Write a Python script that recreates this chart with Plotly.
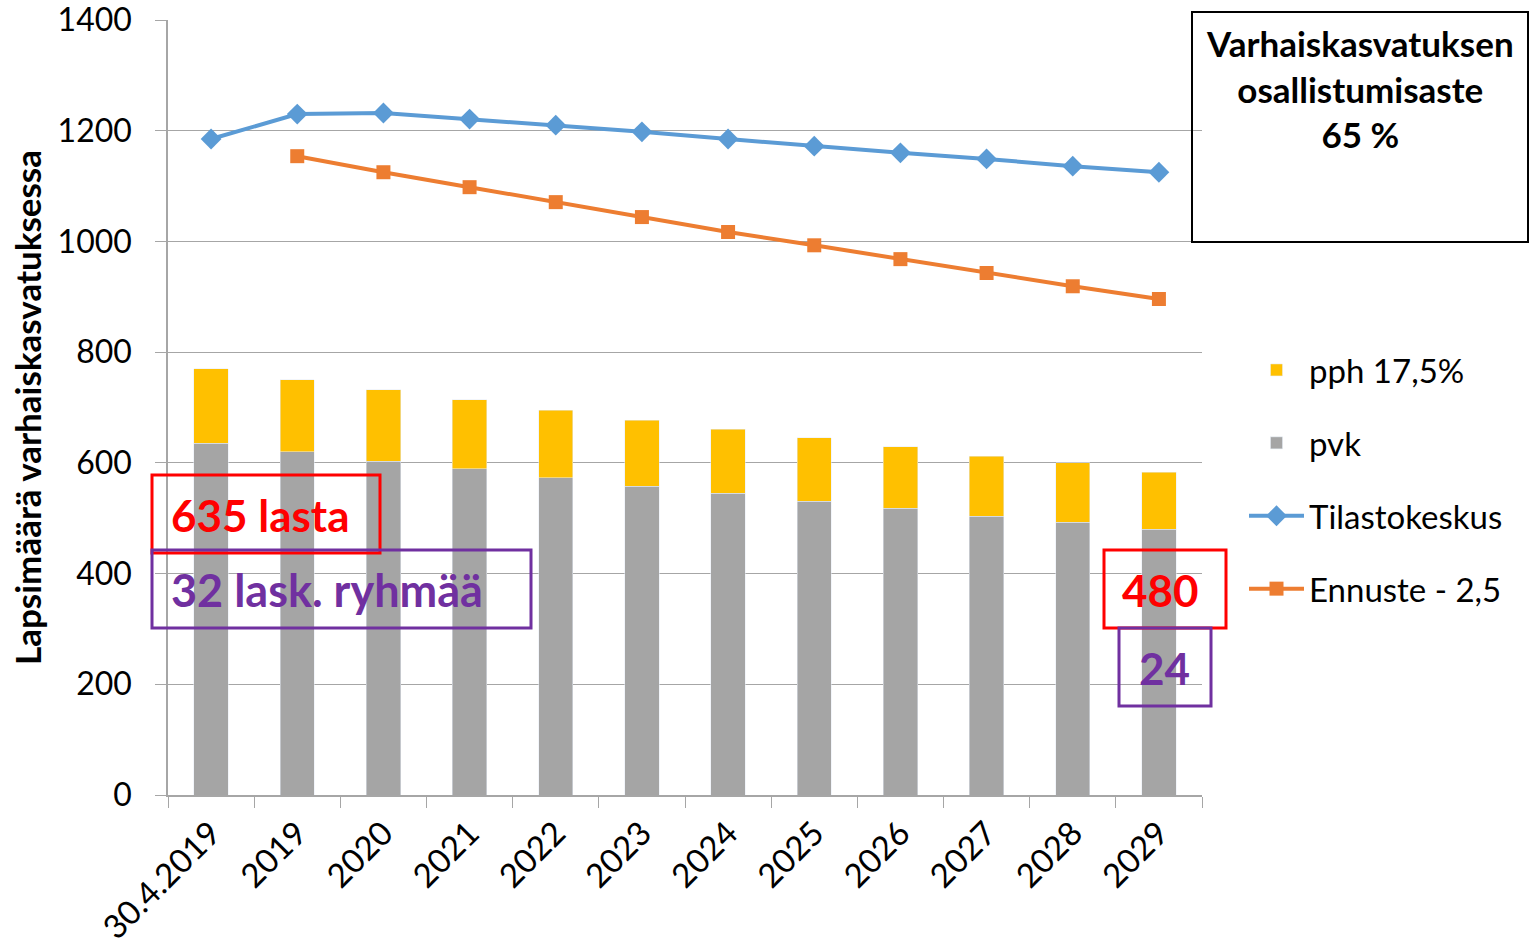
import plotly.graph_objects as go

categories = ["30.4.2019", "2019", "2020", "2021", "2022", "2023", "2024",
              "2025", "2026", "2027", "2028", "2029"]
pvk = [635, 620, 603, 589, 573, 558, 545, 531, 518, 504, 493, 480]
pph = [135, 130, 129, 125, 122, 119, 116, 114, 111, 108, 107, 103]
tilastokeskus = [1185, 1230, 1232, 1221, 1210, 1198, 1185, 1172, 1160, 1149, 1136, 1125]
ennuste = [None, 1154, 1125, 1098, 1071, 1044, 1017, 993, 968, 943, 919, 896]

FONT = "Lato"
W, H = 1530, 950
L, R, T, B = 168, 1202, 20, 795


def px(x):
    return (x - L) / (R - L)


def py(y):
    return (B - y) / (B - T)


fig = go.Figure()
fig.add_trace(go.Bar(x=categories, y=pvk, name="pvk", marker_color="#A5A5A5",
                     legendgroup="b", legendrank=2))
fig.add_trace(go.Bar(x=categories, y=pph, name="pph 17,5%", marker_color="#FFC000",
                     legendgroup="a", legendrank=1))
fig.add_trace(go.Scatter(x=categories, y=tilastokeskus, name="Tilastokeskus",
                         mode="lines+markers", line=dict(color="#5B9BD5", width=4),
                         marker=dict(symbol="diamond", size=16, color="#5B9BD5"),
                         legendgroup="c", legendrank=3))
fig.add_trace(go.Scatter(x=categories, y=ennuste, name="Ennuste - 2,5",
                         mode="lines+markers", line=dict(color="#ED7D31", width=4),
                         marker=dict(symbol="square", size=14, color="#ED7D31"),
                         legendgroup="d", legendrank=4))

shapes = [
    dict(type="rect", xref="paper", yref="paper", x0=px(1192), x1=px(1528), y0=py(242), y1=py(12),
         line=dict(color="black", width=2)),
    dict(type="rect", xref="paper", yref="paper", x0=px(152), x1=px(380), y0=py(553), y1=py(475),
         line=dict(color="#FF0000", width=3)),
    dict(type="rect", xref="paper", yref="paper", x0=px(152), x1=px(531), y0=py(628), y1=py(550),
         line=dict(color="#7030A0", width=3)),
    dict(type="rect", xref="paper", yref="paper", x0=px(1104), x1=px(1226), y0=py(628), y1=py(550),
         line=dict(color="#FF0000", width=3)),
    dict(type="rect", xref="paper", yref="paper", x0=px(1119), x1=px(1211), y0=py(706), y1=py(628),
         line=dict(color="#7030A0", width=3)),
]

annotations = [
    dict(text="<b>Varhaiskasvatuksen<br>osallistumisaste<br>65 %</b>", x=px(1360), y=py(88),
         font=dict(size=35, color="black", family=FONT)),
    dict(text="<b>635 lasta</b>", x=px(260), y=py(515), font=dict(size=44, color="#FF0000", family=FONT)),
    dict(text="<b>32 lask. ryhmää</b>", x=px(327), y=py(590), font=dict(size=45, color="#7030A0", family=FONT)),
    dict(text="<b>480</b>", x=px(1160), y=py(590), font=dict(size=44, color="#FF0000", family=FONT)),
    dict(text="<b>24</b>", x=px(1164), y=py(668), font=dict(size=44, color="#7030A0", family=FONT)),
]
for a in annotations:
    a.update(xref="paper", yref="paper", showarrow=False, xanchor="center", yanchor="middle")

fig.update_layout(
    width=W, height=H,
    margin=dict(l=L, r=W - R, t=T, b=H - B, pad=0, autoexpand=False),
    paper_bgcolor="white", plot_bgcolor="white",
    barmode="stack", bargap=0.6,
    font=dict(family=FONT, size=32, color="black"),
    shapes=shapes, annotations=annotations,
    legend=dict(x=px(1244), y=py(342), xanchor="left", yanchor="top",
                font=dict(size=33, family=FONT), tracegroupgap=27, itemwidth=55,
                bgcolor="rgba(0,0,0,0)"),
    showlegend=True,
)
fig.update_xaxes(type="category", range=[-0.5, len(categories) - 0.5],
                 showline=True, linecolor="#A6A6A6", linewidth=1.5,
                 ticks="outside", tickson="boundaries", ticklen=11, tickcolor="#A6A6A6",
                 tickangle=-45, tickfont=dict(size=33, family=FONT), showgrid=False,
                 ticklabelstandoff=4, automargin=False, ticklabeloverflow="allow")
fig.update_yaxes(range=[0, 1400], dtick=200, showline=True, linecolor="#A6A6A6", linewidth=1.5,
                 ticks="outside", ticklen=11, tickcolor="#A6A6A6", gridcolor="#A6A6A6", gridwidth=1,
                 tickfont=dict(size=32, family=FONT), ticklabelstandoff=17, zeroline=False,
                 automargin=False, ticklabeloverflow="allow",
                 title=dict(text="<b>Lapsimäärä varhaiskasvatuksessa</b>", font=dict(size=35, family=FONT),
                            standoff=5))

fig.write_html("out.html", config={"displayModeBar": False},
               post_script="document.body.style.margin='0';document.body.style.overflow='hidden';")
